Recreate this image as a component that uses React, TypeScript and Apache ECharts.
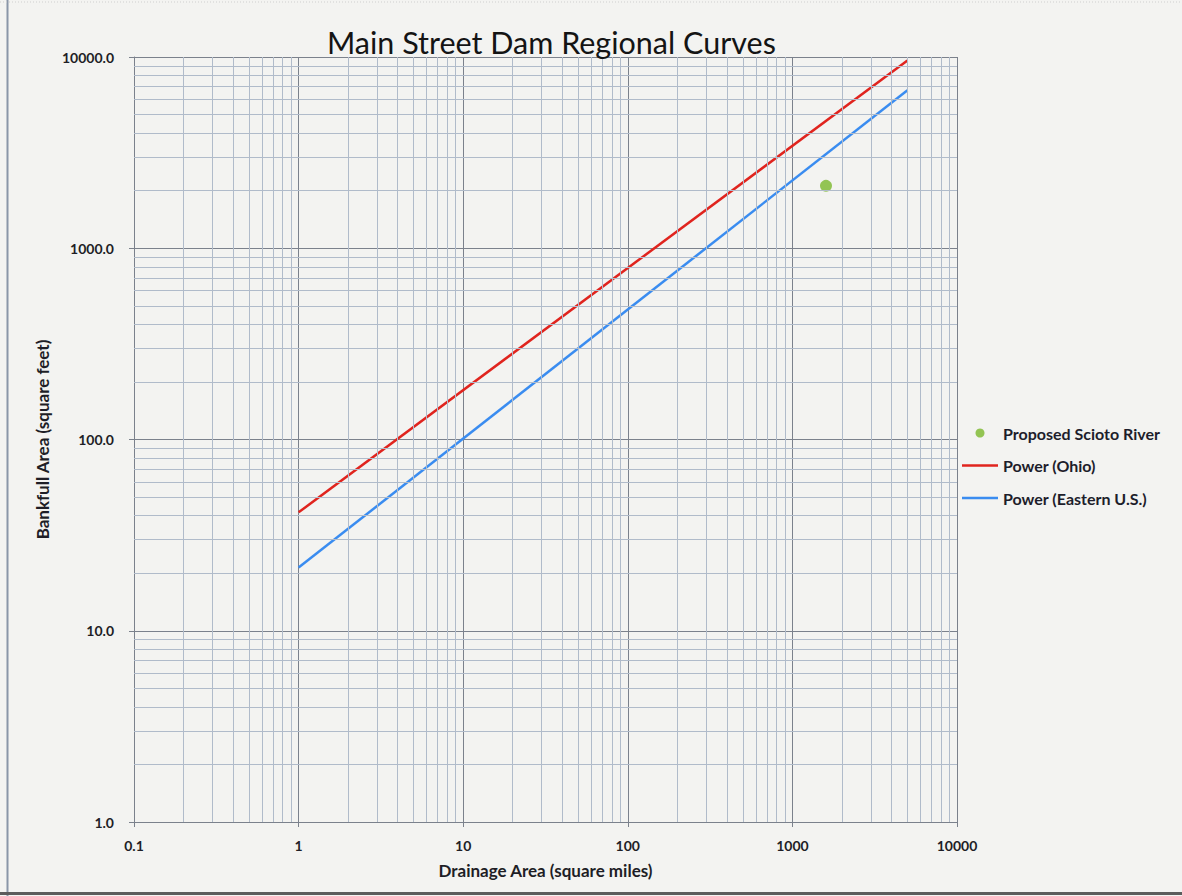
import React, { useEffect, useRef } from "react";
import * as echarts from "echarts";

// Axis decades (tick values) and minor grid steps
const xTicks = [0.1, 1, 10, 100, 1000, 10000];
const yTicks = [1, 10, 100, 1000, 10000];
const minorSteps = [2, 3, 4, 5, 6, 7, 8, 9];

// Series values
const ohioArea = [1, 5000];
const ohioBankfull = [41.6, 9600];
const easternArea = [1, 5000];
const easternBankfull = [21.4, 6700];
const sciotoArea = [1600];
const sciotoBankfull = [2120];

const seriesNames = ["Proposed Scioto River", "Power (Ohio)", "Power (Eastern U.S.)"];

const FONT = "Lato, 'Open Sans', sans-serif";
const MAJOR = "#7b818c";
const MINOR = "#b0bbca";
const LINE_ICON = "path://M0,0H36V2.5H0Z";

const zip = (a: number[], b: number[]) => a.map((v, i) => [v, b[i]]);
const minorOf = (ticks: number[]) =>
  ticks.slice(0, -1).flatMap((d) => minorSteps.map((s) => +(d * s).toPrecision(4)));

export default function App() {
  const ref = useRef<HTMLDivElement>(null);
  useEffect(() => {
    if (!ref.current) return;
    const chart = echarts.init(ref.current, undefined, { renderer: "svg" });
    const xMinor = minorOf(xTicks);
    const yMinor = minorOf(yTicks);
    const labelStyle = { fontFamily: FONT, fontWeight: "bold" as const, fontSize: 14, color: "#1e1e26" };
    const nameStyle = { fontFamily: FONT, fontWeight: "bold" as const, fontSize: 17, color: "#1e1e26" };
    chart.setOption({
      animation: false,
      backgroundColor: "#f3f3f1",
      title: {
        text: "Main Street Dam Regional Curves",
        left: 322,
        top: 21,
        textStyle: { fontFamily: FONT, fontWeight: "normal", fontSize: 30.5, color: "#141414" },
      },
      grid: { left: 134, right: 225, top: 57, bottom: 74 },
      legend: {
        orient: "vertical",
        left: 962,
        top: 425,
        padding: 0,
        itemWidth: 36,
        itemHeight: 9,
        itemGap: 16.5,
        data: [
          { name: seriesNames[0], icon: "circle" },
          { name: seriesNames[1], icon: LINE_ICON },
          { name: seriesNames[2], icon: LINE_ICON },
        ],
        textStyle: { fontFamily: FONT, fontWeight: "bold", fontSize: 16, color: "#1d1d2b" },
      },
      xAxis: {
        type: "log",
        logBase: 10,
        min: xTicks[0],
        max: xTicks[xTicks.length - 1],
        name: "Drainage Area (square miles)",
        nameLocation: "middle",
        nameGap: 40,
        nameTextStyle: nameStyle,
        axisLine: { show: true, lineStyle: { color: MAJOR, width: 1 } },
        axisTick: { show: true, length: 5, lineStyle: { color: MAJOR } },
        axisLabel: {
          ...labelStyle,
          margin: 16,
          formatter: (v: number) => (v < 1 ? v.toFixed(1) : v.toFixed(0)),
        },
        splitLine: { show: true, lineStyle: { color: MAJOR, width: 1 } },
      },
      yAxis: {
        type: "log",
        logBase: 10,
        min: yTicks[0],
        max: yTicks[yTicks.length - 1],
        name: "Bankfull Area (square feet)",
        nameLocation: "middle",
        nameGap: 83,
        nameRotate: 90,
        nameTextStyle: nameStyle,
        axisLine: { show: true, lineStyle: { color: MAJOR, width: 1 } },
        axisTick: { show: true, length: 5, lineStyle: { color: MAJOR } },
        axisLabel: {
          ...labelStyle,
          margin: 20,
          formatter: (v: number) => v.toFixed(1),
        },
        splitLine: { show: true, lineStyle: { color: MAJOR, width: 1 } },
      },
      graphic: [
        { type: "line", shape: { x1: 7.5, y1: 0, x2: 7.5, y2: 896 }, style: { stroke: "#8a96a8", lineWidth: 2 } },
        { type: "line", shape: { x1: 0, y1: 893.5, x2: 1182, y2: 893.5 }, style: { stroke: "#5c5c5c", lineWidth: 3 } },
        { type: "line", shape: { x1: 0, y1: 2, x2: 1182, y2: 2 }, style: { stroke: "#cfcfcf", lineWidth: 1, lineDash: [1, 2] } },
      ],
      series: [
        {
          type: "line",
          name: "minor-grid",
          data: [],
          silent: true,
          markLine: {
            silent: true,
            symbol: ["none", "none"],
            label: { show: false },
            emphasis: { disabled: true },
            lineStyle: { color: MINOR, width: 1, type: "solid" },
            data: [...xMinor.map((v) => ({ xAxis: v })), ...yMinor.map((v) => ({ yAxis: v }))],
          },
        },
        {
          type: "scatter",
          name: seriesNames[0],
          data: zip(sciotoArea, sciotoBankfull),
          symbolSize: 12,
          itemStyle: { color: "#7ab82c" },
        },
        {
          type: "line",
          name: seriesNames[1],
          data: zip(ohioArea, ohioBankfull),
          symbol: "none",
          lineStyle: { color: "#e0241e", width: 2.5 },
          itemStyle: { color: "#e0241e" },
        },
        {
          type: "line",
          name: seriesNames[2],
          data: zip(easternArea, easternBankfull),
          symbol: "none",
          lineStyle: { color: "#3a8cf0", width: 2.5 },
          itemStyle: { color: "#3a8cf0" },
        },
      ],
    });
    return () => chart.dispose();
  }, []);
  return (
    <div
      ref={ref}
      style={{ position: "fixed", left: 0, top: 0, width: 1182, height: 896 }}
    />
  );
}
